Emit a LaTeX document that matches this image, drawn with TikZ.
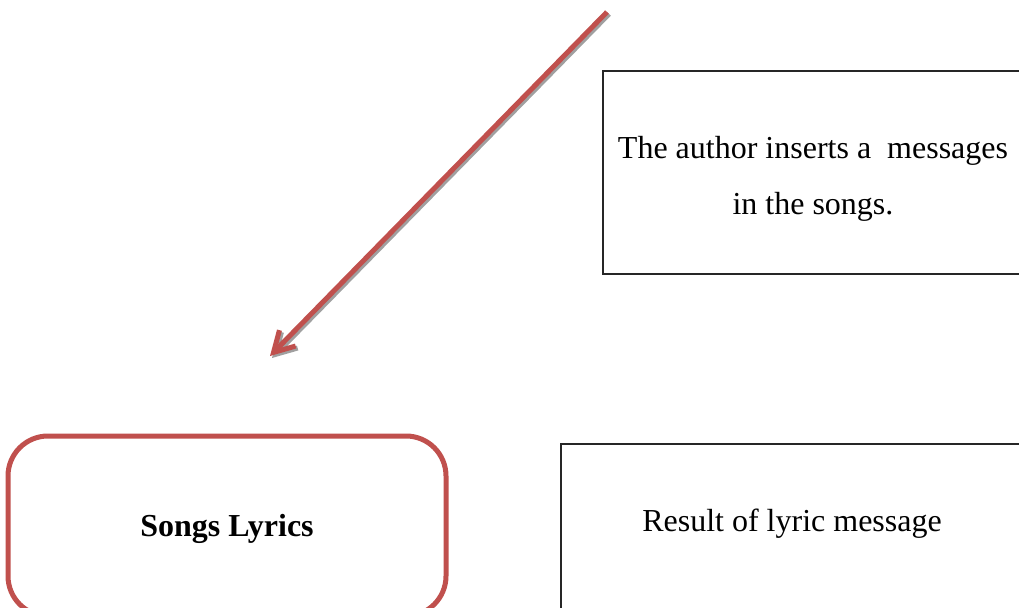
\documentclass[tikz,border=0pt]{standalone}
\usepackage{fontspec}
\setmainfont{Liberation Serif}
\usepackage{xcolor}
\usetikzlibrary{arrows.meta}
\definecolor{lyricred}{RGB}{192,80,77}
\definecolor{shadowgray}{RGB}{160,160,160}

\begin{document}
\begin{tikzpicture}[x=0.75pt, y=-0.75pt,
  msgbox/.style={draw=black!85, line width=1.1pt, minimum width=#1},
  lyricbox/.style={draw=lyricred, line width=3.75pt, rounded corners=30pt},
  msgtext/.style={font=\fontsize{24pt}{42pt}\selectfont, align=center},
  bigarrow/.style={line width=3.75pt, -{Straight Barb[length=15pt,width=17pt]}}]
\useasboundingbox (0,0) rectangle (1019,607);
\clip (0,0) rectangle (1019,607);
% boxes
\node[msgbox=430*0.75pt, minimum height=203*0.75pt] (authorbox) at (818,172.5) {};
\node[msgtext] (authortxt) at (813,178.5) {The author inserts a \ messages\\in the songs.};
\node[lyricbox, minimum width=438*0.75pt, minimum height=180*0.75pt] (lyricsbox) at (227,526) {};
\node[msgtext, font=\fontsize{24pt}{42pt}\selectfont\bfseries] (lyricstxt) at (227,529) {Songs Lyrics};
\node[msgbox=480*0.75pt, minimum height=200*0.75pt] (resultbox) at (801,544) {};
\node[msgtext] (resulttxt) at (792,524) {Result of lyric message};
% arrow with its shadow
\coordinate (from) at (607,12);
\coordinate (to) at (270,356);
\draw[bigarrow, shadowgray] ([shift={(2,2)}]from) -- ([shift={(2,2)}]to);
\draw[bigarrow, lyricred] (from) -- (to);
\end{tikzpicture}
\end{document}
